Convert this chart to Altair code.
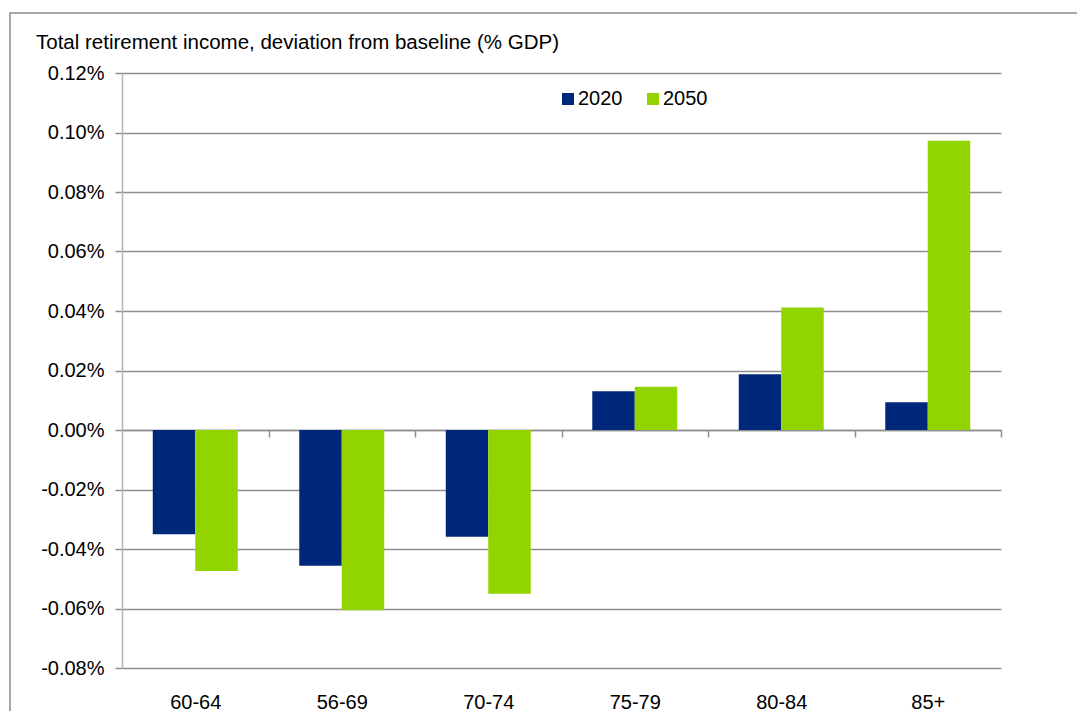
import altair as alt
import pandas as pd

groups = ["60-64", "56-69", "70-74", "75-79", "80-84", "85+"]
years = ["2020", "2050"]
v2020 = [-0.035, -0.0456, -0.0359, 0.013, 0.0187, 0.0093]
v2050 = [-0.0474, -0.0606, -0.055, 0.0145, 0.0412, 0.0972]
y_ticks = [-0.08, -0.06, -0.04, -0.02, 0.0, 0.02, 0.04, 0.06, 0.08, 0.10, 0.12]
title_text = "Total retirement income, deviation from baseline (% GDP)"

rows = []
for g, a, b in zip(groups, v2020, v2050):
    rows.append({"group": g, "year": "2020", "value": a})
    rows.append({"group": g, "year": "2050", "value": b})
df = pd.DataFrame(rows)

FONT = "Liberation Sans"
GRID = "#8e8e8e"
W, H = 879, 595
STEP = W / len(groups)

bars = alt.Chart(df).mark_bar().encode(
    x=alt.X(
        "group:N",
        sort=groups,
        title=None,
        scale=alt.Scale(paddingInner=0.42, paddingOuter=0.21),
        axis=alt.Axis(
            offset=-238,
            domain=True,
            domainColor=GRID,
            domainWidth=1.5,
            ticks=True,
            tickOffset=STEP / 2,
            labelOffset=-STEP / 2,
            tickSize=7,
            tickColor=GRID,
            tickWidth=1.5,
            labelPadding=255,
            labelFont=FONT,
            labelFontSize=20,
            labelColor="#000000",
            labelAngle=0,
            grid=False,
        ),
    ),
    xOffset=alt.XOffset("year:N", sort=years, scale=alt.Scale(paddingInner=0, paddingOuter=0)),
    y=alt.Y(
        "value:Q",
        stack=None,
        title=None,
        scale=alt.Scale(domain=[-0.08, 0.12], nice=False, zero=False),
        axis=alt.Axis(
            values=y_ticks,
            labelExpr="(datum.value < -0.00001 ? '-' : '') + format(abs(datum.value), '.2f') + '%'",
            grid=True,
            gridColor=GRID,
            gridWidth=1.5,
            domain=True,
            domainColor="#b5b5b5",
            domainWidth=1.5,
            tickSize=7,
            tickColor=GRID,
            tickWidth=1.5,
            labelPadding=11,
            labelFont=FONT,
            labelFontSize=20,
            labelColor="#000000",
        ),
    ),
    color=alt.Color(
        "year:N",
        sort=years,
        scale=alt.Scale(domain=years, range=["#00287A", "#92D400"]),
        legend=alt.Legend(
            title=None,
            orient="none",
            legendX=436,
            legendY=16,
            direction="horizontal",
            symbolType="square",
            symbolSize=144,
            symbolStrokeWidth=0,
            symbolOpacity=1,
            labelFont=FONT,
            labelFontSize=20,
            labelColor="#000000",
            labelOffset=0,
            columnPadding=20,
            padding=0,
        ),
    ),
)

one = pd.DataFrame({"f": [0]})

frame = alt.Chart(one).mark_rect(
    fillOpacity=0, stroke="#8a8a8a", strokeWidth=1.5
).encode(
    x=alt.value(-112),
    x2=alt.value(1000),
    y=alt.value(-60),
    y2=alt.value(700),
)

title = alt.Chart(one).mark_text(
    text=title_text,
    align="left",
    baseline="alphabetic",
    font=FONT,
    fontSize=20.5,
    color="#000000",
).encode(x=alt.value(-86), y=alt.value(-24))

chart = alt.layer(bars, frame, title).properties(
    width=W,
    height=H,
    padding={"left": 114, "top": 65, "right": 76, "bottom": 43},
    autosize=alt.AutoSizeParams(type="none"),
).configure_view(stroke=None)

chart.save("out.html", embed_options={"renderer": "svg", "actions": False})
